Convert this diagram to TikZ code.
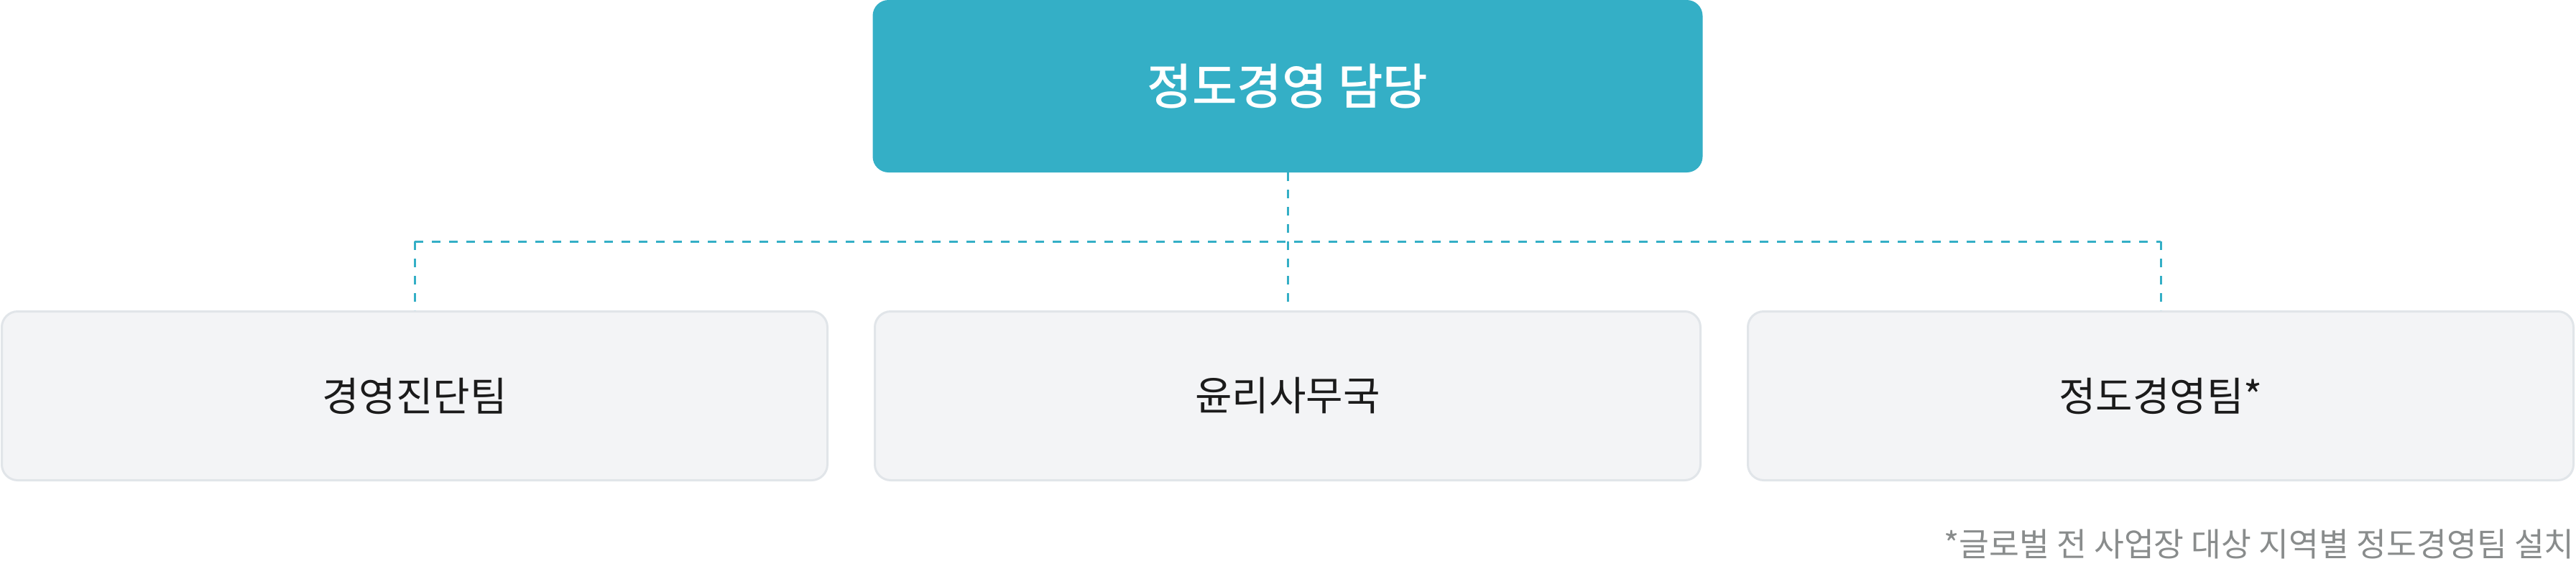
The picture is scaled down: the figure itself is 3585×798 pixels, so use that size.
\documentclass[tikz,border=0pt]{standalone}
\usepackage{fontspec}
\setmainfont{Noto Sans CJK KR}[BoldFont={Noto Sans CJK KR Medium}]
\definecolor{teal}{HTML}{34AFC6}
\definecolor{boxfill}{HTML}{F3F4F6}
\definecolor{boxline}{HTML}{E1E5E9}
\definecolor{txtdark}{HTML}{1B1B1B}
\definecolor{notegray}{HTML}{898C8C}
\tikzset{
  headbox/.style={fill=teal, draw=none, rounded corners=22pt, minimum width=1155pt, minimum height=240pt, inner sep=0pt, text=white, font=\fontsize{68}{76}\selectfont\bfseries},
  teambox/.style={fill=boxfill, draw=boxline, line width=3pt, rounded corners=22pt, minimum width=1149pt, minimum height=235pt, inner sep=0pt, text=txtdark, font=\fontsize{56}{64}\selectfont},
  link/.style={draw=teal, line width=3pt, dash pattern=on 12pt off 12pt},
  notetext/.style={text=notegray, font=\fontsize{45.5}{52}\selectfont, inner sep=0pt}
}
\begin{document}
\begin{tikzpicture}[x=1pt,y=1pt]
\useasboundingbox (0,0) rectangle (3585,-798);
\node[headbox] (head) at (1792,-120) {정도경영 담당};
\node[teambox] (t1) at (577,-551) {경영진단팀};
\node[teambox] (t2) at (1792,-551) {윤리사무국};
\node[teambox] (t3) at (3007,-551) {정도경영팀*};
\coordinate (jc) at (1792,-336);
\coordinate (jl) at (577,-336);
\coordinate (jr) at (3007,-336);
\draw[link] (head.south) -- (t2.north);
\draw[link] (jl) -- (jr);
\draw[link] (jl) -- (t1.north);
\draw[link] (jr) -- (t3.north);
\node[notetext, anchor=east] (note) at (3583,-757) {*글로벌 전 사업장 대상 지역별 정도경영팀 설치};
\end{tikzpicture}
\end{document}
